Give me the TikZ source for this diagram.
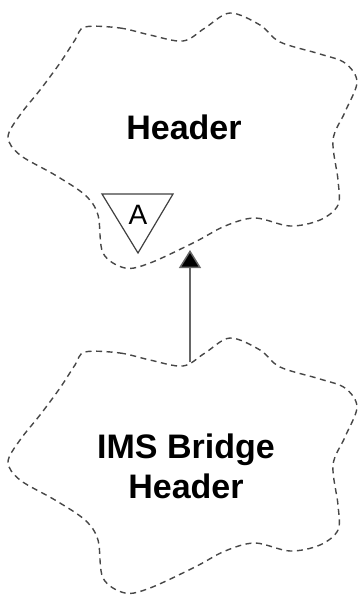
\documentclass[tikz,border=0pt]{standalone}
\usepackage{fontspec}
\newfontfamily\lsans{Liberation Sans}
\usetikzlibrary{arrows.meta}
\tikzset{
  cloudline/.style={draw=black!72, line width=1.4pt, dash pattern=on 6pt off 4.5pt},
  classtext/.style={font=\lsans\bfseries\fontsize{34}{40}\selectfont, inner sep=0pt, align=center, text=black},
  abstri/.style={draw=black!75, line width=1.2pt},
  absletter/.style={font=\lsans\fontsize{28}{30}\selectfont, inner sep=0pt, text=black},
  inherit/.style={draw=black!60, line width=1.5pt, -{Triangle[length=18pt,width=22pt,fill=black]}}
}
\newcommand{\cloudpath}[1]{%
  \draw[cloudline, shift={(0,#1)}] plot[smooth cycle, tension=0.55] coordinates {
    (85,27) (120,28) (150,35) (183,41) (205,28) (230,13) (260,25) (280,42)
    (320,54) (345,63) (357,82) (345,112) (333,140) (338,180) (338,205)
    (320,220) (290,226) (255,218) (225,226) (195,242) (150,263) (125,268)
    (103,253) (98,215) (85,195) (55,175) (20,155) (8,137) (20,115) (40,90)
    (60,63) (75,40)};}
\begin{document}
\begin{tikzpicture}[x=1pt, y=-1pt]
  \useasboundingbox (0,0) rectangle (359,595);
  % top cloud: Header
  \cloudpath{0}
  \node[classtext] (header) at (184,127) {Header};
  % abstract adornment
  \coordinate (tl) at (102,194);
  \coordinate (tr) at (173,194);
  \coordinate (tb) at (138,253);
  \draw[abstri] (tl) -- (tr) -- (tb) -- cycle;
  \node[absletter] (absA) at (138,215) {A};
  % bottom cloud: IMS Bridge Header
  \cloudpath{325}
  \node[classtext] (imsbh) at (186,466) {IMS Bridge\\Header};
  % inheritance connector
  \coordinate (topedge) at (190,250);
  \coordinate (botedge) at (190,362);
  \draw[inherit] (botedge) -- (topedge);
\end{tikzpicture}
\end{document}
